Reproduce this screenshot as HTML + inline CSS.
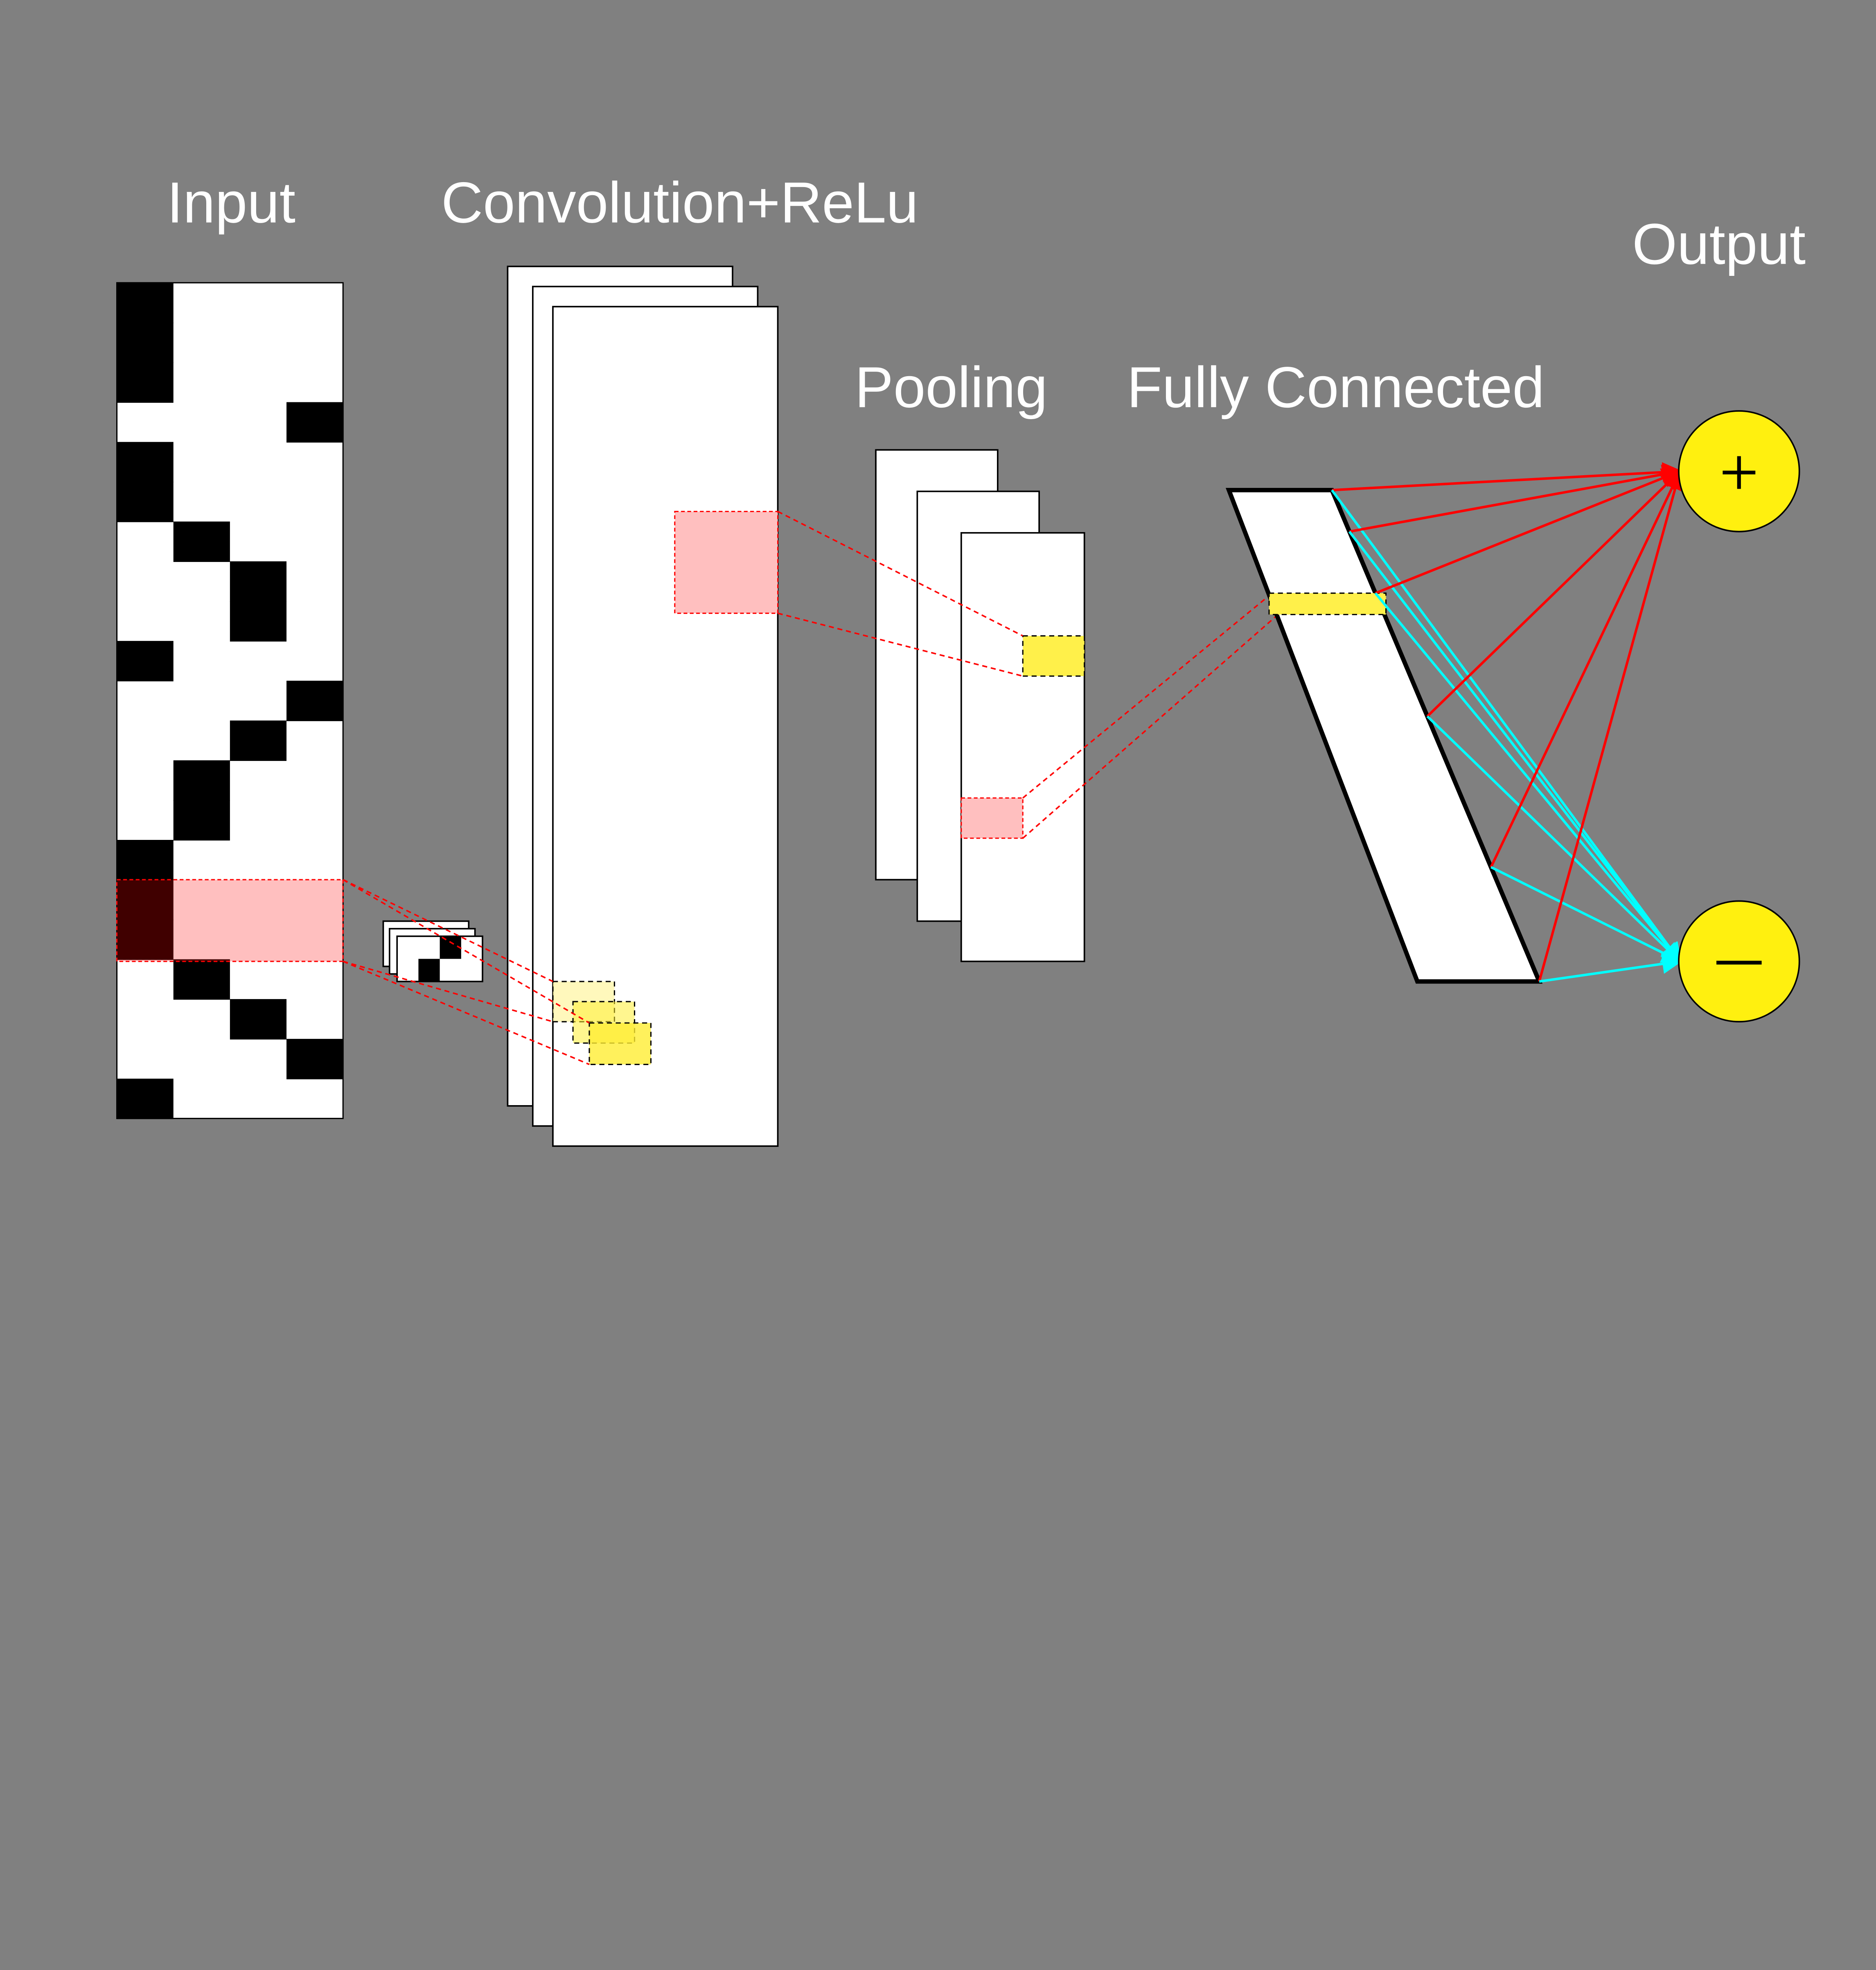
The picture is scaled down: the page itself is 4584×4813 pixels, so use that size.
<!DOCTYPE html>
<html><head><meta charset="utf-8"><style>
html,body{margin:0;padding:0;background:#808080;}
svg{display:block;}
text{font-family:"Liberation Sans",sans-serif;fill:#fff;}
</style></head><body>
<svg id="cnn" width="4584" height="4813" viewBox="0 0 1493 1567.6" xmlns="http://www.w3.org/2000/svg">
<defs>
<marker id="ar" markerWidth="8" markerHeight="8" refX="7" refY="4" orient="auto" markerUnits="strokeWidth"><path d="M0,0 L8,4 L0,8 z" fill="#ff0000"/></marker>
<marker id="ac" markerWidth="8" markerHeight="8" refX="7" refY="4" orient="auto" markerUnits="strokeWidth"><path d="M0,0 L8,4 L0,8 z" fill="#00ffff"/></marker>
</defs>
<rect width="1493" height="1567.6" fill="#808080"/>
<text x="184" y="177" font-size="46" text-anchor="middle">Input</text>
<text x="541" y="177" font-size="46" text-anchor="middle">Convolution+ReLu</text>
<text x="1368" y="210" font-size="46" text-anchor="middle">Output</text>
<text x="757" y="324" font-size="46" text-anchor="middle">Pooling</text>
<text x="1063" y="324" font-size="46" text-anchor="middle">Fully Connected</text>
<g id="inputg"></g>
<g id="filterg"></g>
<g>
<rect x="404" y="212" width="179" height="668" fill="#fff" stroke="#000" stroke-width="1.2"/>
<rect x="424" y="228" width="179" height="668" fill="#fff" stroke="#000" stroke-width="1.2"/>
<rect x="440" y="244" width="179" height="668" fill="#fff" stroke="#000" stroke-width="1.2"/>
<rect x="440" y="781" width="49" height="32" fill="#fff5a0" fill-opacity="0.7" stroke="#000" stroke-dasharray="4,3"/>
<rect x="456" y="797" width="49" height="33" fill="#ffee33" fill-opacity="0.55" stroke="#000" stroke-dasharray="4,3"/>
<rect x="469" y="814" width="49" height="33" fill="#ffee33" fill-opacity="0.8" stroke="#000" stroke-dasharray="4,3"/>
<rect x="537" y="407" width="82" height="81" fill="#ffbfbf" stroke="#ff0000" stroke-dasharray="3,2"/>
</g>
<g>
<rect x="697" y="358" width="97" height="342" fill="#fff" stroke="#000" stroke-width="1.2"/>
<rect x="730" y="391" width="97" height="342" fill="#fff" stroke="#000" stroke-width="1.2"/>
<rect x="765" y="424" width="98" height="341" fill="#fff" stroke="#000" stroke-width="1.2"/>
<rect x="814" y="506" width="49" height="32" fill="#fff04a" stroke="#000" stroke-dasharray="4,3"/>
<rect x="765" y="635" width="49" height="32" fill="#ffbfbf" stroke="#ff0000" stroke-dasharray="3,2"/>
</g>
<g fill="none" stroke="#ff0000" stroke-width="1.2" stroke-dasharray="4,3">
<line x1="273" y1="700" x2="440" y2="781"/><line x1="273" y1="700" x2="469" y2="814"/>
<line x1="273" y1="765" x2="440" y2="813"/><line x1="273" y1="765" x2="469" y2="847"/>
<line x1="619" y1="407" x2="814" y2="506"/><line x1="619" y1="488" x2="814" y2="538"/>
<line x1="814" y1="635" x2="1010" y2="474"/><line x1="814" y1="667" x2="1016" y2="490"/>
</g>
<polygon points="978,390 1060,390 1225,781 1128,781" fill="#fff" stroke="#000" stroke-width="3.5"/>
<rect x="1010" y="472" width="93" height="17" fill="#fff04a" stroke="#000" stroke-dasharray="4,3"/>
<g id="edges"></g>
<circle cx="1384" cy="375" r="48" fill="#fff00f" stroke="#000" stroke-width="1.2"/>
<circle cx="1384" cy="765" r="48" fill="#fff00f" stroke="#000" stroke-width="1.2"/>
<line x1="1371" y1="376" x2="1397" y2="376" stroke="#000" stroke-width="3"/>
<line x1="1384" y1="363" x2="1384" y2="389" stroke="#000" stroke-width="3"/>
<line x1="1366" y1="766" x2="1402" y2="766" stroke="#000" stroke-width="3"/>
</svg>
<script>
var NS="http://www.w3.org/2000/svg";
// input matrix: black cell column per row (21 rows, 4 cols)
var inputBlackCol=[0,0,0,3,0,0,1,2,2,0,3,2,1,1,0,0,0,1,2,3,0];
var filterBlack=[[0,0,1,0],[0,1,0,0]];
var edgeYs=[390,423,472,570,690,781];
function mk(tag,attrs,parent){var e=document.createElementNS(NS,tag);for(var k in attrs)e.setAttribute(k,attrs[k]);parent.appendChild(e);return e;}
var ig=document.getElementById('inputg');
var x0=93,y0=225,cw=45,rh=665/inputBlackCol.length;
var bg=mk('rect',{x:x0,y:y0,width:cw*4,height:665,fill:'#fff',stroke:'#000','stroke-width':1},ig);


inputBlackCol.forEach(function(c,i){
  var r=mk('rect',{x:x0+c*cw,y:y0+i*rh,width:cw,height:rh+0.5,fill:'#000'},ig);
  
  
});
var hl=mk('rect',{x:93,y:700,width:180,height:65,fill:'#ff0000','fill-opacity':0.25,stroke:'#ff0000','stroke-dasharray':'3,2'},ig);


var fg=document.getElementById('filterg');
[[305,733],[310,739],[316,745]].forEach(function(p,k){
  var r=mk('rect',{x:p[0],y:p[1],width:68,height:36,fill:'#fff',stroke:'#000','stroke-width':1.2},fg);
  
  
  if(k==2){filterBlack.forEach(function(row,ri){row.forEach(function(v,ci){if(v){
    var b=mk('rect',{x:p[0]+ci*17,y:p[1]+ri*18,width:17,height:18,fill:'#000'},fg);
    
    
  }});});}
});
var eg=document.getElementById('edges');
edgeYs.forEach(function(y){
  var x=1060+(y-390)*(165/391);
  var a=mk('line',{x1:x,y1:y,x2:1337,y2:375,stroke:'#ff0000','stroke-width':2,'marker-end':'url(#ar)'},eg);
  
  
  var b=mk('line',{x1:x,y1:y,x2:1337,y2:765,stroke:'#00ffff','stroke-width':2,'marker-end':'url(#ac)'},eg);
  
  
});
</script>
</body></html>
